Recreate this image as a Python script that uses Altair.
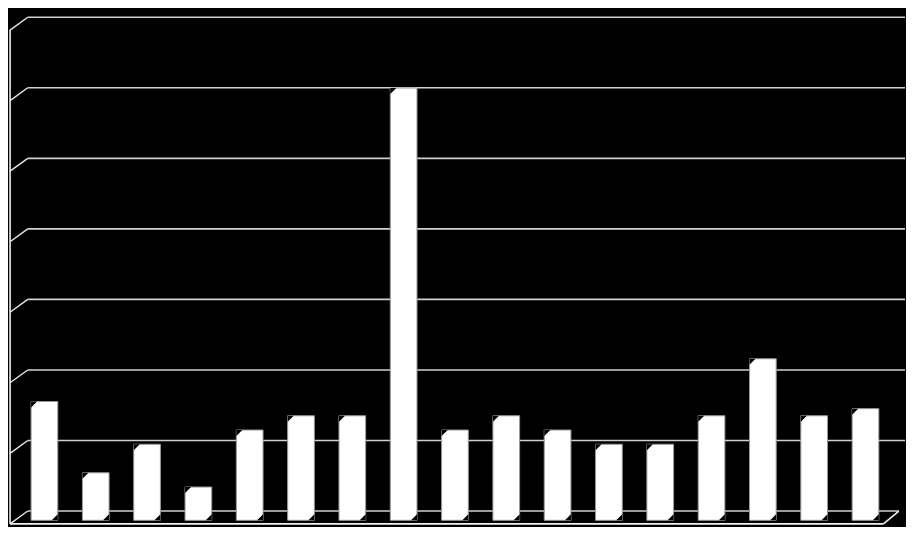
import altair as alt
import pandas as pd

# ---- data ----
categories = list(range(1, 18))
values = [16, 6, 10, 4, 12, 14, 14, 60, 12, 14, 12, 10, 10, 14, 22, 14, 15]
grid_values = [0, 10, 20, 30, 40, 50, 60, 70]

# ---- 3D-look geometry (in data units) ----
HALF = 0.26          # half bar width (category units)
X_FRONT = 0.33       # left wall front edge
X_BACK = 0.675       # back wall left edge
X_RIGHT = 17.77      # right edge of plot
X_FLOOR_END = 17.35  # floor front line end
X_FLOOR_BACK = 17.65
GRID_OFF = 1.3       # back wall offset above bar baseline
DEPTH = 1.8          # vertical depth offset
BEVEL = 0.67         # bar top bevel height

bars = pd.DataFrame({"cat": categories, "value": values})
bars["x1"] = bars["cat"] - HALF
bars["x2"] = bars["cat"] + HALF
bars["zero"] = 0
bars["top"] = bars["value"] + BEVEL

grid = pd.DataFrame({"g": grid_values})
grid["y"] = grid["g"] * 0.99 + GRID_OFF
grid["x1"] = X_BACK
grid["x2"] = [X_FLOOR_BACK if g == 0 else X_RIGHT for g in grid_values]

diag = pd.DataFrame({
    "x1": X_FRONT, "x2": X_BACK,
    "y1": grid["y"] - DEPTH, "y2": grid["y"],
})

top_y = grid["y"].max() - DEPTH
bot_y = grid["y"].min() - DEPTH
frame = pd.DataFrame({
    "x1": [X_FRONT, X_FRONT, X_FLOOR_END],
    "x2": [X_FRONT, X_FLOOR_END, X_FLOOR_BACK],
    "y1": [top_y, bot_y, bot_y],
    "y2": [bot_y, bot_y, grid["y"].min()],
})

xs = alt.Scale(domain=[0.29, 17.77], nice=False, zero=False)
ys = alt.Scale(domain=[-0.94, 71.9], nice=False, zero=False)

grid_layer = alt.Chart(grid).mark_rule(color="#d0d0d0", strokeWidth=1.6).encode(
    x=alt.X("x1:Q", scale=xs, axis=None),
    x2="x2:Q",
    y=alt.Y("y:Q", scale=ys, axis=None),
)

diag_layer = alt.Chart(diag).mark_rule(color="#e8e8e8", strokeWidth=1.4).encode(
    x=alt.X("x1:Q", scale=xs, axis=None),
    x2="x2:Q",
    y=alt.Y("y1:Q", scale=ys, axis=None),
    y2="y2:Q",
)

frame_layer = alt.Chart(frame).mark_rule(color="#f0f0f0", strokeWidth=1.6).encode(
    x=alt.X("x1:Q", scale=xs, axis=None),
    x2="x2:Q",
    y=alt.Y("y1:Q", scale=ys, axis=None),
    y2="y2:Q",
)

bar_layer = alt.Chart(bars).mark_bar(
    fill="white", stroke="#9a9a9a", strokeWidth=1
).encode(
    x=alt.X("x1:Q", scale=xs, axis=None),
    x2="x2:Q",
    y=alt.Y("zero:Q", scale=ys, axis=None),
    y2="top:Q",
)

# bevel cuts on bar corners (top-left and bottom-right)
cut_tl = alt.Chart(bars).mark_point(
    shape="M0,0 L1,0 L0,1 Z", filled=True, color="black", opacity=1, size=144
).encode(
    x=alt.X("x1:Q", scale=xs, axis=None),
    y=alt.Y("top:Q", scale=ys, axis=None),
)
cut_br = alt.Chart(bars).mark_point(
    shape="M0,0 L-1,0 L0,-1 Z", filled=True, color="black", opacity=1, size=144
).encode(
    x=alt.X("x2:Q", scale=xs, axis=None),
    y=alt.Y("zero:Q", scale=ys, axis=None),
)

chart = alt.layer(
    grid_layer, diag_layer, frame_layer, bar_layer, cut_tl, cut_br
).properties(
    width=898,
    height=519,
    background="black",
    padding=0,
    autosize=alt.AutoSizeParams(type="fit", contains="padding"),
).configure_view(stroke=None, fill="black")

chart.save("out.html", embed_options={"renderer": "svg", "actions": False})
